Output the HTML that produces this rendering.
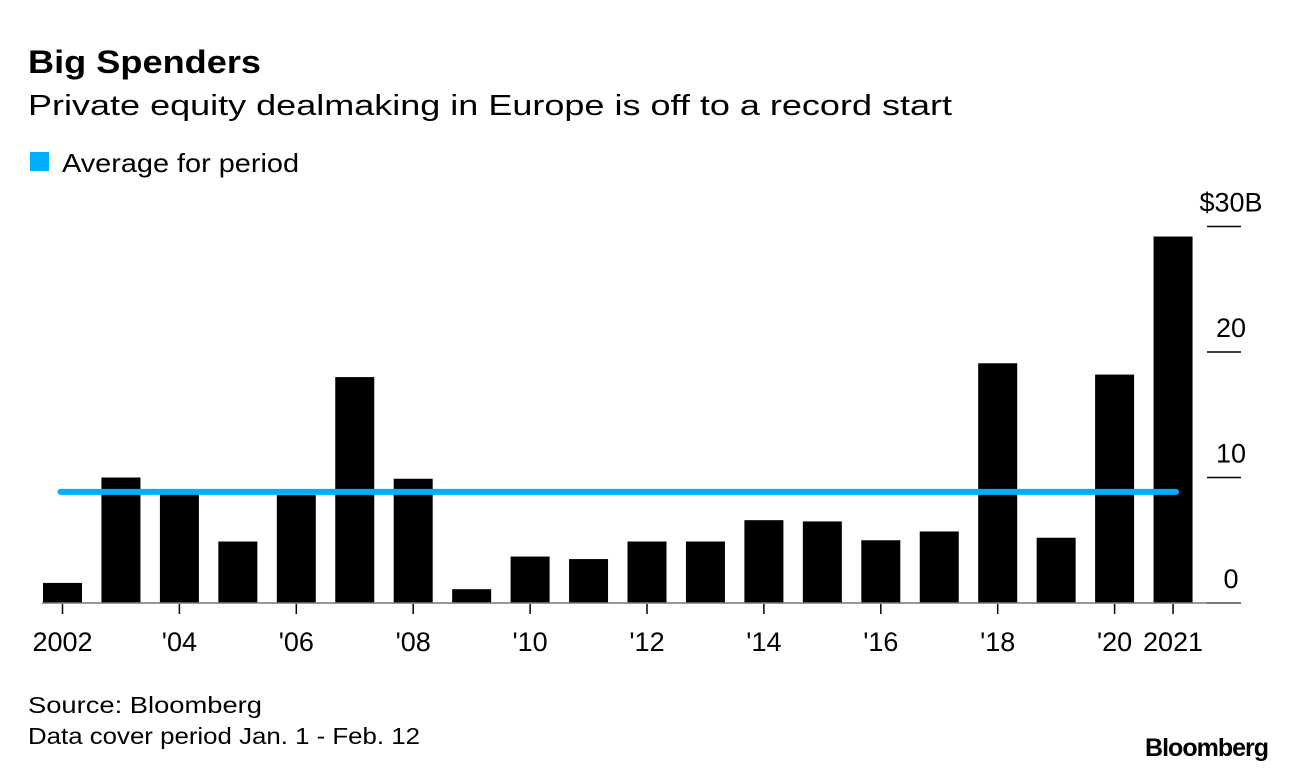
<!DOCTYPE html>
<html><head><meta charset="utf-8"><style>
body{margin:0;background:#fff;font-family:"Liberation Sans",sans-serif;}
svg text{font-family:"Liberation Sans",sans-serif;}
</style></head><body>
<svg width="1296" height="774" xmlns="http://www.w3.org/2000/svg">
<text x="28" y="73" font-size="32" font-weight="bold" fill="#000" textLength="233" lengthAdjust="spacingAndGlyphs">Big Spenders</text>
<text x="28" y="115" font-size="29" fill="#000" textLength="924" lengthAdjust="spacingAndGlyphs">Private equity dealmaking in Europe is off to a record start</text>
<rect x="30" y="152" width="19" height="19" fill="#00aeff"/>
<text x="62" y="172" font-size="26" fill="#000" textLength="237" lengthAdjust="spacingAndGlyphs">Average for period</text>
<g id="plot"></g>
<text x="28" y="713" font-size="23" fill="#000" textLength="234" lengthAdjust="spacingAndGlyphs">Source: Bloomberg</text>
<text x="28" y="744" font-size="23" fill="#000" textLength="392" lengthAdjust="spacingAndGlyphs">Data cover period Jan. 1 - Feb. 12</text>
<text x="1268" y="756" font-size="25" font-weight="bold" text-anchor="end" fill="#000" letter-spacing="-1">Bloomberg</text>
</svg>
<script>
const years=[2002,2003,2004,2005,2006,2007,2008,2009,2010,2011,2012,2013,2014,2015,2016,2017,2018,2019,2020,2021];
const values=[1.6,10.0,9.0,4.9,8.6,18.0,9.9,1.1,3.7,3.5,4.9,4.9,6.6,6.5,5.0,5.7,19.1,5.2,18.2,29.2];
const average=[8.85];
const yTicks=[0,10,20,30];
const yTickLabels=["0","10","20","$30B"];
const xLabelYears=[2002,2004,2006,2008,2010,2012,2014,2016,2018,2020,2021];
const xLabels=["2002","'04","'06","'08","'10","'12","'14","'16","'18","'20","2021"];
const NS="http://www.w3.org/2000/svg";
const g=document.getElementById('plot');
const x=yr=>62.5+(yr-2002)*58.45;
const y=v=>603-v*12.55;
function mk(t,a){const e=document.createElementNS(NS,t);for(const k in a)e.setAttribute(k,a[k]);g.appendChild(e);return e;}
yTicks.forEach((t,i)=>{
  const l=mk('line',{x1:1207,x2:1241,y1:y(t),y2:y(t),stroke:'#000','stroke-width':1.5});
  
  
  const tx=mk('text',{x:1231,y:y(t)-15,'font-size':27,'text-anchor':'middle',fill:'#000'});
  tx.textContent=yTickLabels[i];
  
  
});
years.forEach((yr,i)=>{
  const r=mk('rect',{x:x(yr)-19.5,y:y(values[i]),width:39,height:y(0)-y(values[i]),fill:'#000'});
  
  
});
const base=mk('line',{x1:42,x2:1241,y1:603,y2:603,stroke:'#777','stroke-width':1.5});


xLabelYears.forEach((yr,i)=>{
  const t=mk('line',{x1:x(yr),x2:x(yr),y1:604,y2:614,stroke:'#000','stroke-width':1.5});
  
  
  const tx=mk('text',{x:x(yr),y:651,'font-size':27,'text-anchor':'middle',fill:'#000'});
  tx.textContent=xLabels[i];
  
  
});
const av=mk('line',{x1:x(2002)-2,x2:x(2021)+3,y1:y(average[0]),y2:y(average[0]),stroke:'#00aeff','stroke-width':6,'stroke-linecap':'round'});


</script>
</body></html>
